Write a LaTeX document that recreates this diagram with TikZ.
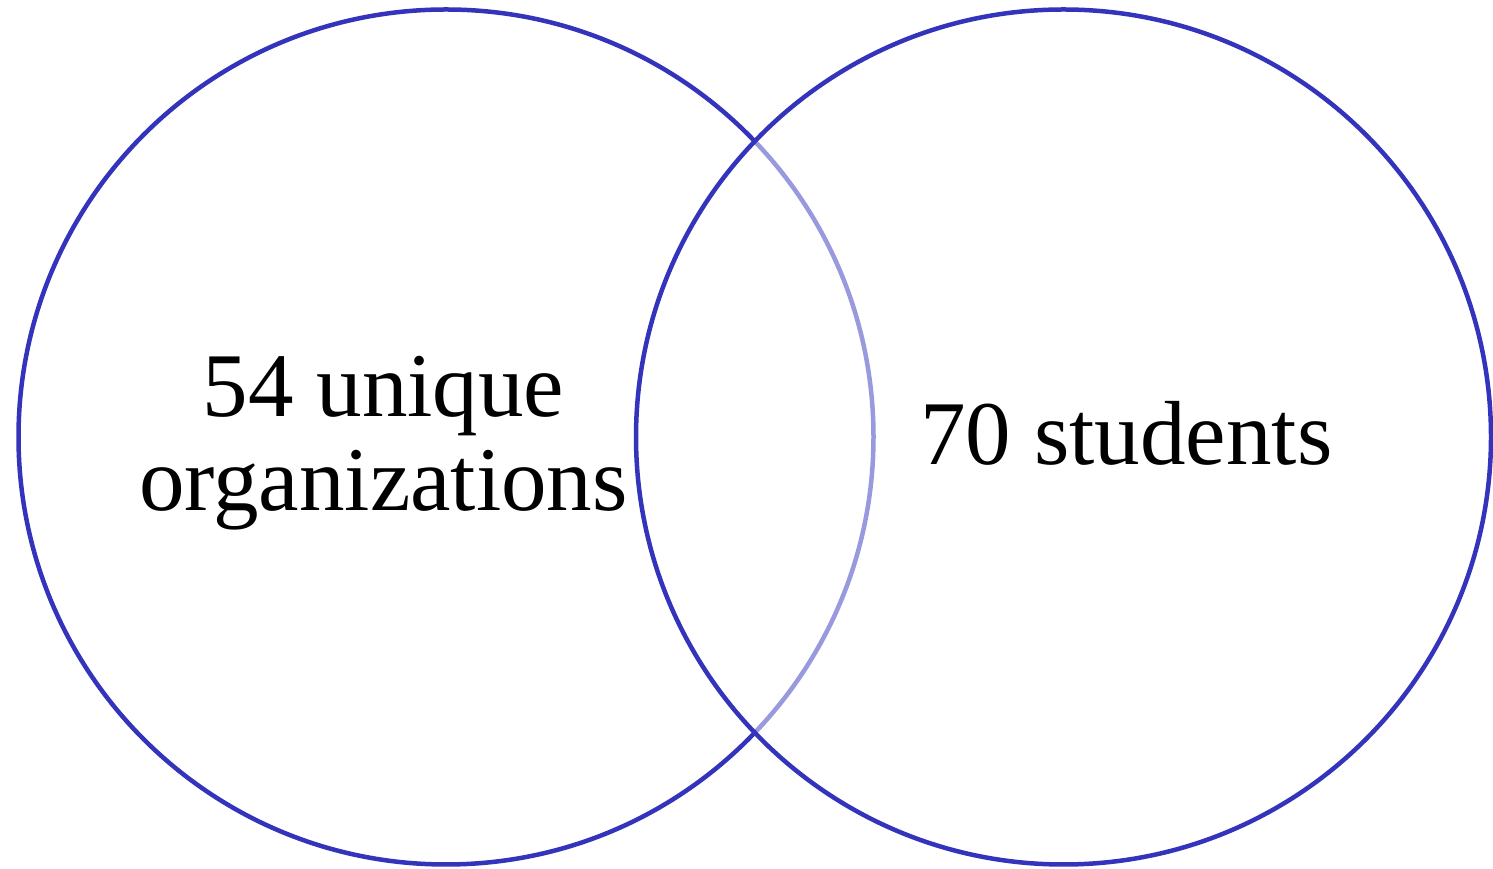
\documentclass[tikz,border=0pt]{standalone}
\usepackage{fontspec}
\setmainfont{Liberation Serif}
\definecolor{venn}{RGB}{51,51,187}
\begin{document}
\begin{tikzpicture}[x=1pt,y=1pt,
  vennline/.style={draw=venn,line width=4.5pt},
  lbl/.style={inner sep=0pt,anchor=base,font=\fontsize{91}{98}\selectfont}]
\useasboundingbox (0,0) rectangle (1493,869);
\fill[white] (0,0) rectangle (1493,869);
\draw[vennline] (446,432) circle (427.5pt);
\path[vennline,fill=white,fill opacity=0.5] (1063.5,432) circle (427.5pt);
\node[lbl] (a1) at (383.5,452) {54 unique};
\node[lbl] (a2) at (383.5,358) {organizations};
\node[lbl] (b) at (1126.5,404) {70 students};
\end{tikzpicture}
\end{document}
